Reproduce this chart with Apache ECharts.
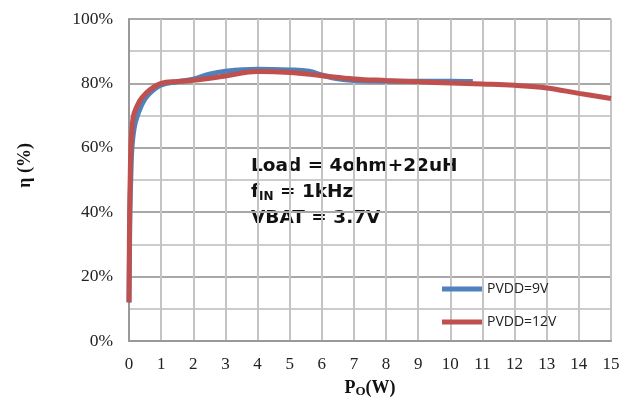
<!DOCTYPE html>
<html>
<head>
<meta charset="utf-8">
<script src="https://cdn.jsdelivr.net/npm/echarts@6/dist/echarts.min.js"></script>
<style>
  html, body { margin: 0; padding: 0; background: #fff; }
  #myChart { width: 624px; height: 400px; }
</style>
</head>
<body>
<div id="myChart"></div>
<script>
// PVDD=9V 曲线
var po9 = [0, 0.03, 0.06, 0.1, 0.2, 0.4, 0.6, 1.0, 1.5, 2.0, 2.5, 3.0, 4.0, 5.0, 5.6, 6.0, 6.5, 7.0, 8.0, 9.0, 10.0, 10.7];
var eff9 = [12, 40, 52, 61, 68, 73.5, 76.5, 79.5, 80.5, 81.3, 82.9, 83.8, 84.4, 84.2, 83.8, 82.6, 81.4, 80.9, 80.7, 80.7, 80.7, 80.6];
// PVDD=12V 曲线
var po12 = [0, 0.02, 0.04, 0.06, 0.13, 0.25, 0.4, 0.65, 1.0, 1.5, 2.0, 3.0, 4.0, 5.0, 6.0, 7.0, 8.0, 9.0, 10.0, 11.0, 12.0, 13.0, 14.0, 15.0];
var eff12 = [12, 40, 52, 60, 69.5, 73, 75.5, 78, 80, 80.6, 81, 82.3, 83.7, 83.4, 82.4, 81.4, 80.9, 80.5, 80.1, 79.8, 79.4, 78.6, 76.9, 75.3];
var seriesNames = ['PVDD=9V', 'PVDD=12V'];
var xTicks = [0, 15, 1];
var yTicks = [0, 100, 20];

function pairs(xs, ys) {
    var out = [];
    for (var i = 0; i < xs.length; i++) {
        out.push([xs[i], ys[i]]);
    }
    return out;
}

var myChart = echarts.init(document.getElementById('myChart'));
var serif = '"Liberation Serif", "Times New Roman", serif';

var option = {
    animation: false,
    grid: { left: 129, right: 13, top: 19, bottom: 59, containLabel: false, outerBoundsMode: 'none' },
    legend: {
        data: seriesNames,
        orient: 'vertical',
        left: 437,
        top: 276,
        icon: 'rect',
        itemWidth: 40,
        itemHeight: 5,
        itemGap: 17,
        textStyle: { fontFamily: '"Open Sans", sans-serif', fontSize: 14, color: '#222', lineHeight: 16 }
    },
    xAxis: {
        type: 'value',
        min: xTicks[0],
        max: xTicks[1],
        interval: xTicks[2],
        name: '{b|P}{s|O}{b|(W)}',
        nameLocation: 'middle',
        nameGap: 37,
        nameTextStyle: {
            rich: {
                b: { fontFamily: serif, fontWeight: 'bold', fontSize: 18, color: '#111' },
                s: { fontFamily: serif, fontWeight: 'bold', fontSize: 13, color: '#111', padding: [7, 0, 0, 0] }
            }
        },
        axisLine: { lineStyle: { color: '#999', width: 2 } },
        axisTick: { show: false },
        axisLabel: { fontFamily: serif, fontSize: 17, color: '#222', margin: 15 },
        splitLine: { show: true, lineStyle: { color: '#c4c4c4', width: 2 } }
    },
    yAxis: {
        type: 'value',
        min: yTicks[0],
        max: yTicks[1],
        interval: yTicks[2],
        axisLine: { show: true, lineStyle: { color: '#999', width: 2 } },
        axisTick: { show: false },
        axisLabel: { fontFamily: serif, fontSize: 17.5, color: '#222', margin: 16, formatter: '{value}%' },
        splitLine: { show: true, lineStyle: { color: '#a8a8a8', width: 2 } },
        minorTick: { show: false, splitNumber: 2 },
        minorSplitLine: { show: true, lineStyle: { color: '#cccccc', width: 2 } }
    },
    graphic: [{
        type: 'text',
        left: 251,
        top: 157,
        style: {
            text: '{b|Load = 4ohm+22uH}\n{b|f}{s|IN}{b| = 1kHz}\n{b|VBAT = 3.7V}',
            rich: {
                b: { fontFamily: '"DejaVu Sans", sans-serif', fontWeight: 'bold', fontSize: 18.5, lineHeight: 26, fill: '#111' },
                s: { fontFamily: '"DejaVu Sans", sans-serif', fontWeight: 'bold', fontSize: 12, lineHeight: 26, fill: '#111', padding: [8, 0, 0, 0] }
            }
        }
    }, {
        type: 'text',
        left: 16,
        top: 143,
        rotation: Math.PI / 2,
        style: {
            text: 'η (%)',
            font: 'bold 18px ' + serif,
            fill: '#111'
        }
    }],
    series: [{
        name: seriesNames[0],
        type: 'line',
        data: pairs(po9, eff9),
        smooth: 0.4,
        symbol: 'none',
        itemStyle: { color: '#4f81bd' },
        lineStyle: { color: '#4f81bd', width: 5 }
    }, {
        name: seriesNames[1],
        type: 'line',
        data: pairs(po12, eff12),
        smooth: 0.4,
        symbol: 'none',
        itemStyle: { color: '#c0504d' },
        lineStyle: { color: '#c0504d', width: 5 }
    }]
};

myChart.setOption(option);
</script>
</body>
</html>
